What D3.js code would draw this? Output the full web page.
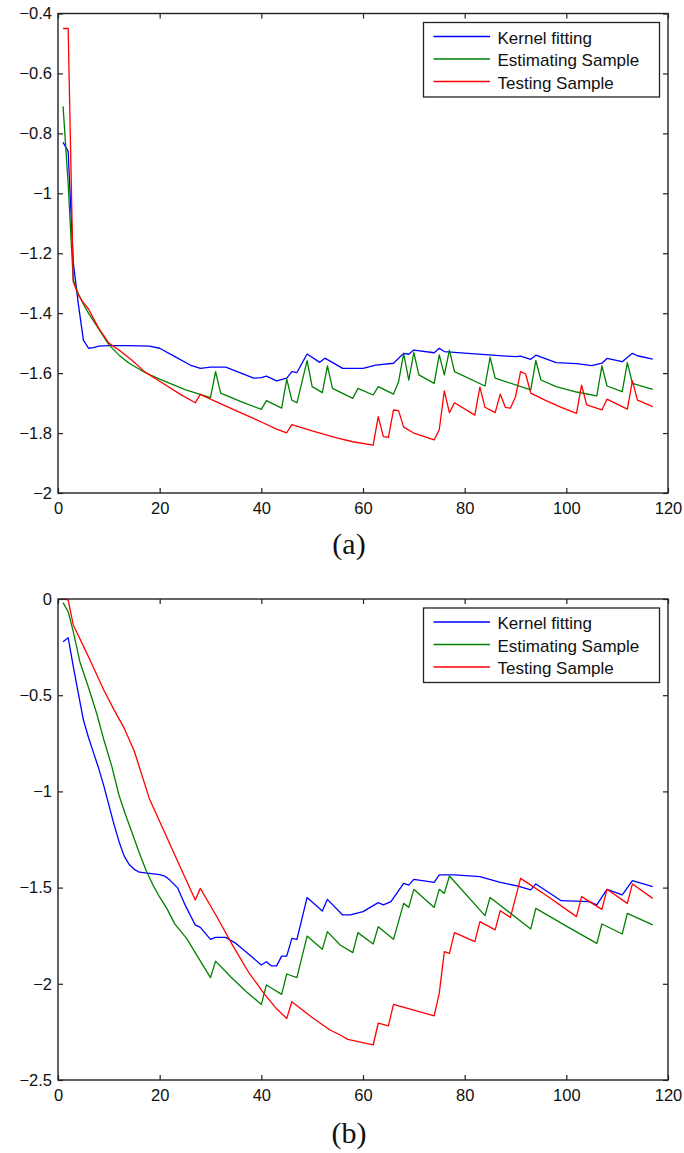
<!DOCTYPE html>
<html>
<head>
<meta charset="utf-8">
<script src="https://cdn.jsdelivr.net/npm/d3@7"></script>
<style>
  html, body { margin: 0; padding: 0; background: #fff; }
  svg { display: block; }
  .tick text { font-family: "Liberation Sans", Arial, sans-serif; font-size: 16.5px; fill: #111; }
</style>
</head>
<body>
<svg id="fig" width="684" height="1153"></svg>
<script>
// ---- shared axis values ----
const xTicks = [0, 20, 40, 60, 80, 100, 120];
const seriesNames = ["Kernel fitting", "Estimating Sample", "Testing Sample"];
const seriesColors = ["#0000ff", "#008000", "#ff0000"];

// ---- panel (a): [iteration, value] ----
const aYTicks = [-2, -1.8, -1.6, -1.4, -1.2, -1, -0.8, -0.6, -0.4];
const aKernel = [[1,-0.83],[2,-0.86],[3,-1.23],[4,-1.37],[5,-1.49],[6,-1.517],[7,-1.515],[8,-1.51],[10,-1.508],[14,-1.508],[18,-1.51],[20,-1.517],[23,-1.545],[26,-1.573],[28,-1.584],[30,-1.58],[33,-1.58],[36,-1.6],[38.5,-1.617],[40,-1.615],[41,-1.61],[43,-1.626],[45,-1.617],[46,-1.595],[47,-1.598],[49,-1.536],[51.5,-1.564],[52.5,-1.55],[56,-1.584],[60,-1.584],[62.5,-1.573],[66,-1.567],[68,-1.534],[69,-1.537],[70,-1.523],[74,-1.532],[75,-1.517],[76,-1.528],[82,-1.536],[90,-1.545],[91,-1.543],[93,-1.554],[94,-1.54],[98,-1.565],[102,-1.568],[105,-1.575],[107,-1.567],[108,-1.551],[111,-1.562],[113,-1.534],[114,-1.542],[117,-1.553]];
const aEstimating = [[1,-0.71],[2,-0.97],[3,-1.29],[4,-1.335],[5,-1.37],[6,-1.4],[8,-1.452],[10,-1.505],[12,-1.54],[14,-1.567],[17,-1.597],[20,-1.62],[25,-1.655],[30,-1.682],[31,-1.595],[32,-1.667],[36,-1.695],[40,-1.721],[41,-1.692],[44,-1.717],[45,-1.62],[46,-1.69],[47,-1.699],[49,-1.558],[50,-1.645],[52,-1.665],[53,-1.576],[54,-1.651],[58,-1.684],[59,-1.651],[62,-1.673],[63,-1.645],[66,-1.67],[67,-1.629],[68,-1.534],[69,-1.623],[70,-1.532],[71,-1.606],[74,-1.634],[75,-1.539],[76,-1.606],[77,-1.523],[78,-1.595],[84,-1.643],[85,-1.547],[86,-1.617],[93,-1.656],[94,-1.558],[95,-1.623],[98,-1.645],[102,-1.663],[106,-1.676],[107,-1.576],[108,-1.643],[111,-1.662],[112,-1.565],[113,-1.634],[117,-1.654]];
const aTesting = [[1,-0.45],[2,-0.45],[3,-1.295],[4,-1.34],[5,-1.365],[6,-1.386],[8,-1.45],[10,-1.5],[12,-1.523],[14.5,-1.556],[17,-1.595],[20,-1.627],[24,-1.67],[27,-1.699],[28,-1.671],[30,-1.687],[35,-1.725],[40,-1.763],[43,-1.787],[45,-1.799],[46,-1.772],[50,-1.793],[55,-1.817],[58,-1.829],[62,-1.84],[63,-1.745],[64,-1.812],[65,-1.814],[66,-1.723],[67,-1.725],[68,-1.78],[70,-1.8],[74,-1.823],[75,-1.789],[76,-1.659],[77,-1.732],[78,-1.699],[82,-1.74],[83,-1.647],[84,-1.714],[86,-1.732],[87,-1.67],[88,-1.714],[89,-1.717],[90,-1.679],[91,-1.595],[92,-1.603],[93,-1.667],[96,-1.692],[99,-1.714],[102,-1.734],[103,-1.64],[104,-1.706],[107,-1.723],[108,-1.687],[112,-1.72],[113,-1.626],[114,-1.69],[117,-1.712]];

// ---- panel (b): [iteration, value] ----
const bYTicks = [-2.5, -2, -1.5, -1, -0.5, 0];
const bKernel = [[1,-0.222],[2,-0.201],[3,-0.35],[4,-0.49],[5,-0.629],[6,-0.72],[7,-0.8],[8,-0.88],[9,-0.97],[10,-1.07],[11,-1.17],[12,-1.26],[13,-1.335],[14,-1.38],[15,-1.405],[16,-1.42],[18,-1.426],[20,-1.433],[21,-1.44],[22,-1.461],[23.5,-1.5],[25,-1.59],[27,-1.694],[28,-1.707],[30,-1.769],[31,-1.759],[33,-1.759],[35,-1.79],[37,-1.835],[40,-1.902],[41,-1.885],[42,-1.907],[43,-1.907],[44,-1.856],[45,-1.856],[46,-1.764],[47,-1.769],[49,-1.552],[52,-1.622],[53,-1.561],[56,-1.642],[57.5,-1.642],[60,-1.625],[63,-1.578],[64,-1.59],[65.5,-1.573],[68,-1.478],[69,-1.487],[70,-1.457],[74,-1.473],[75,-1.434],[78,-1.434],[83,-1.443],[87,-1.473],[90.5,-1.492],[93,-1.512],[94,-1.481],[99,-1.568],[104.5,-1.573],[106,-1.59],[108,-1.509],[111,-1.538],[113,-1.464],[117,-1.495]];
const bEstimating = [[1,-0.019],[2,-0.066],[3,-0.17],[4.3,-0.326],[6,-0.46],[7.6,-0.594],[9,-0.73],[10.6,-0.871],[12,-1.02],[13.2,-1.115],[14.5,-1.21],[16,-1.32],[17.4,-1.415],[18.75,-1.49],[20,-1.55],[21.4,-1.608],[23,-1.69],[25.3,-1.764],[27.5,-1.86],[30,-1.968],[31,-1.882],[34,-1.965],[37,-2.04],[40,-2.107],[41,-2.006],[44,-2.055],[45,-1.949],[47,-1.968],[49,-1.752],[52,-1.821],[53,-1.729],[55.5,-1.798],[58,-1.838],[59,-1.734],[62,-1.793],[63,-1.703],[66,-1.769],[68,-1.582],[69,-1.603],[70,-1.509],[74,-1.603],[75,-1.509],[76,-1.53],[77,-1.44],[84,-1.646],[85,-1.551],[93,-1.715],[94,-1.608],[100,-1.7],[106,-1.79],[107,-1.689],[111,-1.741],[112,-1.634],[117,-1.694]];
const bTesting = [[1,0],[2,-0.005],[3,-0.135],[4,-0.19],[5,-0.245],[6.3,-0.317],[9,-0.473],[11,-0.575],[13,-0.67],[15,-0.79],[18,-1.04],[21,-1.215],[24,-1.39],[27,-1.564],[28,-1.504],[31,-1.64],[34.5,-1.807],[37.5,-1.94],[40.5,-2.05],[43,-2.13],[45,-2.18],[46,-2.093],[50,-2.175],[53.5,-2.24],[55.5,-2.266],[57,-2.289],[62,-2.318],[63,-2.205],[65,-2.219],[66,-2.107],[74,-2.167],[75,-2.05],[76,-1.833],[77,-1.842],[78,-1.734],[82,-1.781],[83,-1.677],[86,-1.72],[87,-1.62],[89,-1.655],[91,-1.452],[96,-1.54],[102,-1.651],[103,-1.547],[107,-1.613],[108,-1.509],[112,-1.582],[113,-1.481],[117,-1.556]];

const svg = d3.select("#fig");
const fmt = d => String(d).replace("-", "\u2212");

function drawPanel(opts) {
  const { top, bottom, yDomain, yTicks, series, caption, captionY } = opts;
  const left = 58, right = 668;
  const x = d3.scaleLinear().domain([0, 120]).range([left, right]);
  const y = d3.scaleLinear().domain(yDomain).range([bottom, top]);
  const g = svg.append("g");

  // data lines
  const line = d3.line().x(d => x(d[0])).y(d => y(d[1]));
  series.forEach((s, i) => {
    g.append("path").datum(s)
      .attr("d", line)
      .attr("fill", "none")
      .attr("stroke", seriesColors[i])
      .attr("stroke-width", 1.3)
      .attr("stroke-linejoin", "round");
  });

  // axes with inward ticks on all four sides
  const styleAxis = sel => {
    sel.select(".domain").remove();
    sel.selectAll(".tick line").attr("stroke", "#222").attr("stroke-width", 1.2);
  };
  g.append("g").attr("transform", `translate(0,${bottom})`)
    .call(d3.axisBottom(x).tickValues(xTicks).tickSize(-5).tickPadding(9).tickFormat(fmt))
    .call(styleAxis);
  g.append("g").attr("transform", `translate(0,${top})`)
    .call(d3.axisTop(x).tickValues(xTicks).tickSize(-5).tickFormat(""))
    .call(styleAxis);
  g.append("g").attr("transform", `translate(${left},0)`)
    .call(d3.axisLeft(y).tickValues(yTicks).tickSize(-5).tickPadding(6).tickFormat(fmt))
    .call(styleAxis);
  g.append("g").attr("transform", `translate(${right},0)`)
    .call(d3.axisRight(y).tickValues(yTicks).tickSize(-5).tickFormat(""))
    .call(styleAxis);
  g.selectAll(".tick text").attr("font-family", null).attr("font-size", null);

  // plot frame
  g.append("rect")
    .attr("x", left).attr("y", top)
    .attr("width", right - left).attr("height", bottom - top)
    .attr("fill", "none").attr("stroke", "#222").attr("stroke-width", 1.4);

  // legend
  const lg = g.append("g").attr("transform", `translate(423.5,${top + 9})`);
  lg.append("rect").attr("width", 236).attr("height", 74.5)
    .attr("fill", "#fff").attr("stroke", "#222").attr("stroke-width", 1.3);
  seriesNames.forEach((name, i) => {
    const by = 21 + i * 22.5;
    lg.append("line")
      .attr("x1", 10).attr("x2", 66.5)
      .attr("y1", by - 7).attr("y2", by - 7)
      .attr("stroke", seriesColors[i]).attr("stroke-width", 1.3);
    lg.append("text")
      .attr("x", 74).attr("y", by)
      .attr("font-family", "Liberation Sans, Arial, sans-serif")
      .attr("font-size", 17)
      .attr("fill", "#111")
      .text(name);
  });

  // panel caption
  svg.append("text")
    .attr("x", 349).attr("y", captionY)
    .attr("text-anchor", "middle")
    .attr("font-family", "Liberation Serif, Times New Roman, serif")
    .attr("font-size", 30)
    .attr("fill", "#111")
    .text(caption);
}

drawPanel({
  top: 13.5, bottom: 493, yDomain: [-2, -0.4], yTicks: aYTicks,
  series: [aKernel, aEstimating, aTesting], caption: "(a)", captionY: 554
});
drawPanel({
  top: 599, bottom: 1080, yDomain: [-2.5, 0], yTicks: bYTicks,
  series: [bKernel, bEstimating, bTesting], caption: "(b)", captionY: 1143
});
</script>
</body>
</html>
